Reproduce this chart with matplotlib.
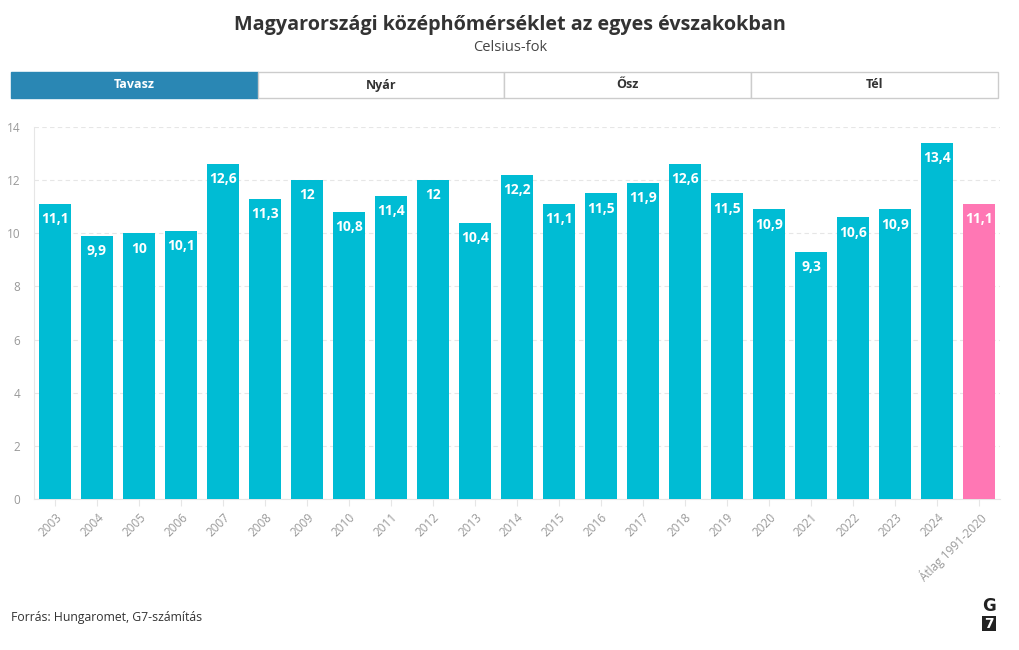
import matplotlib.pyplot as plt
from matplotlib.patches import Rectangle

plt.rcParams['font.family'] = ['Open Sans', 'DejaVu Sans']

years = ["2003", "2004", "2005", "2006", "2007", "2008", "2009", "2010", "2011",
         "2012", "2013", "2014", "2015", "2016", "2017", "2018", "2019", "2020",
         "2021", "2022", "2023", "2024", "Átlag 1991-2020"]
values = [11.1, 9.9, 10.0, 10.1, 12.6, 11.3, 12.0, 10.8, 11.4, 12.0, 10.4, 12.2,
          11.1, 11.5, 11.9, 12.6, 11.5, 10.9, 9.3, 10.6, 10.9, 13.4, 11.1]
tabs = ["Tavasz", "Nyár", "Ősz", "Tél"]

bar_color = "#00bcd4"
avg_color = "#ff77b4"
colors = [bar_color] * (len(values) - 1) + [avg_color]

fig = plt.figure(figsize=(10.2, 6.5), dpi=100)

# title block
fig.text(0.5, 0.962, "Magyarországi középhőmérséklet az egyes évszakokban",
         ha="center", va="center", fontsize=14.2, fontweight="bold", color="#333333")
fig.text(0.5, 0.927, "Celsius-fok", ha="center", va="center", fontsize=10.5, color="#444444")

# tab buttons
tab_ax = fig.add_axes([11 / 1020, 1 - 98 / 650, 987 / 1020, 26 / 650])
tab_ax.set_xlim(0, 4)
tab_ax.set_ylim(0, 1)
tab_ax.axis("off")
for i, t in enumerate(tabs):
    active = i == 0
    tab_ax.add_patch(Rectangle((i, 0), 1, 1, facecolor="#2a87b4" if active else "white",
                               edgecolor="#2a87b4" if active else "#cccccc", lw=1,
                               clip_on=False))
    tab_ax.text(i + 0.5, 0.5, t, ha="center", va="center", fontsize=9, fontweight="bold",
                color="white" if active else "#333333")

# bars
ax = fig.add_axes([34 / 1020, 1 - 499 / 650, 966 / 1020, 372 / 650])
x = range(len(values))
ax.bar(x, values, width=0.76, color=colors, zorder=3)
for xi, v in zip(x, values):
    lbl = f"{v:g}".replace(".", ",")
    ax.annotate(lbl, (xi, v), xytext=(0, -11), textcoords="offset points",
                ha="center", va="center", color="white", fontsize=10, fontweight="bold", zorder=4)

ax.set_xlim(-0.5, len(values) - 0.5)
ax.set_ylim(0, 14)
ax.set_yticks(range(0, 15, 2))
ax.grid(axis="y", color="#e6e6e6", linestyle=(0, (4, 3)), lw=0.8, zorder=0)
for s in ["top", "right"]:
    ax.spines[s].set_visible(False)
ax.spines["left"].set_color("#e6e6e6")
ax.spines["bottom"].set_color("#e6e6e6")
ax.tick_params(axis="y", length=0, labelsize=8.5, labelcolor="#999999", pad=10)
ax.tick_params(axis="x", length=5, color="#e6e6e6", labelsize=8.5, labelcolor="#999999")
ax.set_xticks(list(x))
ax.set_xticklabels(years, rotation=45, ha="right", rotation_mode="anchor")

# footer
fig.text(11 / 1020, 1 - 617 / 650, "Forrás: Hungaromet, G7-számítás",
         ha="left", va="center", fontsize=8.8, color="#333333")
fig.text(989 / 1020, 1 - 606 / 650, "G", ha="center", va="center", fontsize=12,
         fontweight="bold", color="#222222", family="DejaVu Sans")
fig.patches.append(Rectangle((982 / 1020, 1 - 631 / 650), 14 / 1020, 15 / 650,
                             transform=fig.transFigure, facecolor="#222222", edgecolor="none"))
fig.text(989 / 1020, 1 - 623.5 / 650, "7", ha="center", va="center", fontsize=10,
         fontweight="bold", color="white", family="DejaVu Sans")

fig.savefig("out.png", dpi=100)
